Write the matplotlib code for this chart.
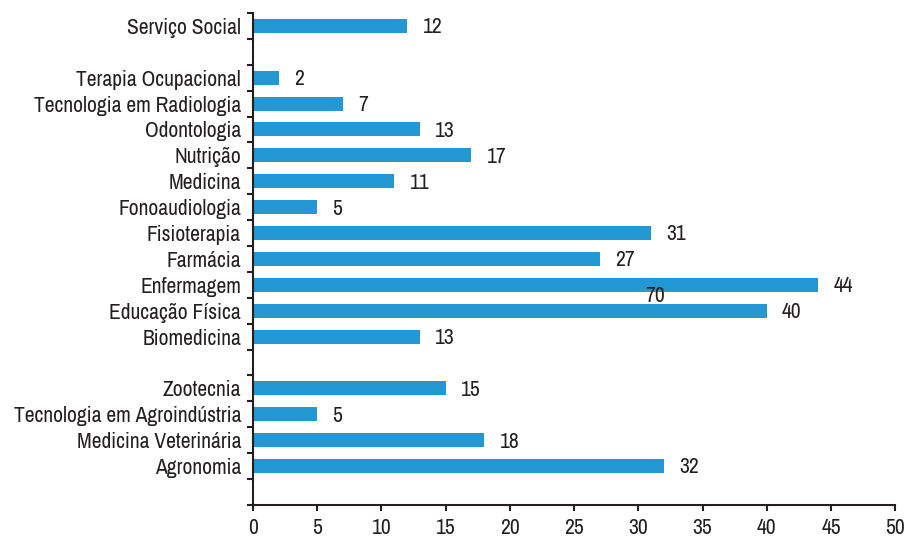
import numpy as np
import matplotlib.pyplot as plt
from matplotlib import font_manager

names = sorted({f.name for f in font_manager.fontManager.ttflist})
narrow = [n for n in names if 'Narrow' in n or 'Condensed' in n]
fam = narrow[0] if narrow else 'Liberation Sans'
plt.rcParams['font.family'] = [fam, 'DejaVu Sans']

# categories top to bottom, None = empty slot
cursos = ['Serviço Social', None,
          'Terapia Ocupacional', 'Tecnologia em Radiologia', 'Odontologia',
          'Nutrição', 'Medicina', 'Fonoaudiologia', 'Fisioterapia', 'Farmácia',
          'Enfermagem', 'Educação Física', 'Biomedicina', None,
          'Zootecnia', 'Tecnologia em Agroindústria', 'Medicina Veterinária',
          'Agronomia', None]
valores = [12, None,
           2, 7, 13, 17, 11, 5, 31, 27, 44, 40, 13, None,
           15, 5, 18, 32, None]
# stray label in the original figure
extra_txt = '70'
extra_x = 31.3

cor = '#2498d2'
txt = '#231f20'
fs = 15.5

fig = plt.figure(figsize=(9.07, 5.40), dpi=100)
ax = fig.add_axes([0.279, 0.065, 0.708, 0.911])

n = len(cursos)
pos = np.arange(n)[::-1]
labs_pos, labs = [], []
for p, c, v in zip(pos, cursos, valores):
    if c is None:
        continue
    ax.barh(p, v, height=0.54, color=cor)
    ax.annotate(str(v), (v, p), xytext=(11, -1), textcoords='offset points',
                ha='left', va='center', fontsize=fs, color=txt)
    labs_pos.append(p)
    labs.append(c)

i_enf = cursos.index('Enfermagem')
ax.text(extra_x, pos[i_enf] - 0.45, extra_txt, ha='center', va='center',
        fontsize=fs, color=txt)

ax.set_xlim(0, 50)
ax.set_ylim(-0.5, n - 0.5)
ax.set_xticks(np.arange(0, 51, 5))
ax.set_yticks(labs_pos)
ax.set_yticklabels(labs)
ax.set_yticks(np.arange(-0.5, n, 1), minor=True)
ax.tick_params(axis='y', which='major', length=0, pad=8.6, labelsize=fs, labelcolor=txt)
ax.tick_params(axis='y', which='minor', length=4, width=1.5, color=txt)
ax.tick_params(axis='x', length=4, width=1.5, pad=5.5, labelsize=fs, labelcolor=txt, color=txt)

for s in ['top', 'right']:
    ax.spines[s].set_visible(False)
for s in ['left', 'bottom']:
    ax.spines[s].set_color(txt)
    ax.spines[s].set_linewidth(1.5)

fig.savefig('out.png', dpi=100)
